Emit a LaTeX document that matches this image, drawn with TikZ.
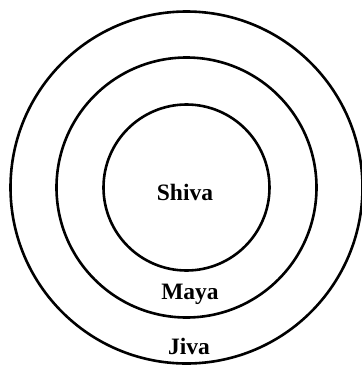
\documentclass[tikz,border=0pt]{standalone}
\usepackage{fontspec}
\setmainfont{Liberation Serif}
\begin{document}
\begin{tikzpicture}[x=1pt,y=-1pt,
  ring/.style={draw=black,line width=2.6pt},
  lbl/.style={font=\fontsize{23.5}{26}\selectfont\bfseries,inner sep=0pt}]
\useasboundingbox (0,0) rectangle (362,368);
\coordinate (c) at (186.5,187.5);
\draw[ring] (c) circle[radius=176];
\draw[ring] (c) circle[radius=130];
\draw[ring] (c) circle[radius=83];
\node[lbl] (shiva) at (185,192) {Shiva};
\node[lbl] (maya) at (190,294) {Maya};
\node[lbl] (jiva) at (189,346) {Jiva};
\end{tikzpicture}
\end{document}
